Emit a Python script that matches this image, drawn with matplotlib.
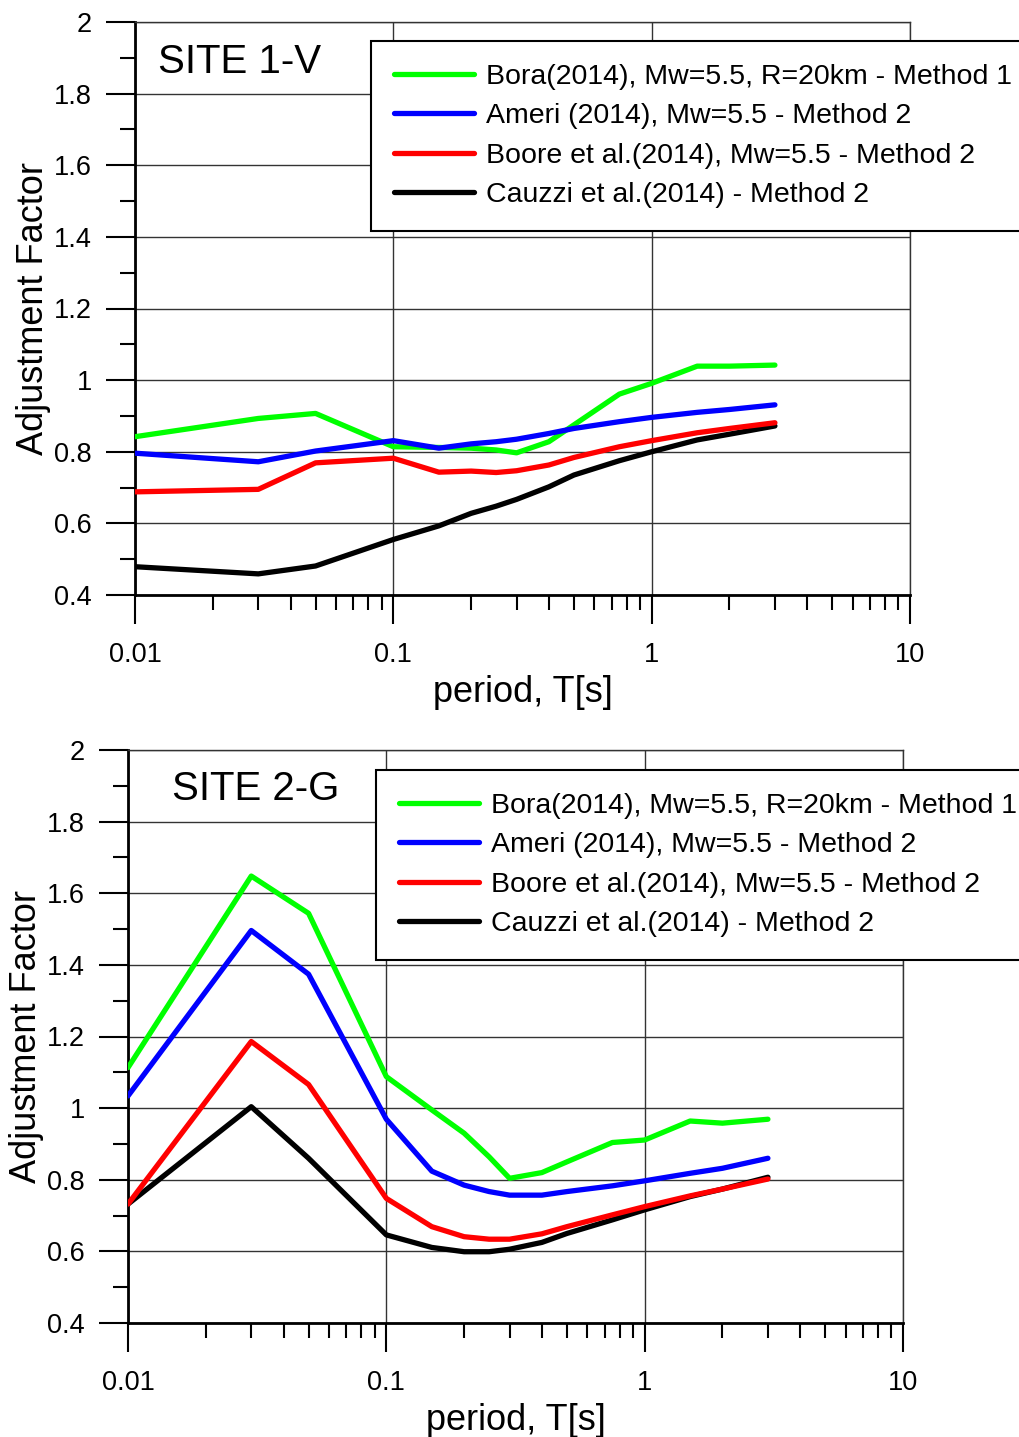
import matplotlib
matplotlib.use("Agg")
import matplotlib.pyplot as plt
from matplotlib.ticker import FixedLocator, LogLocator, FuncFormatter, NullFormatter

plt.rcParams['font.family'] = ['Liberation Sans', 'DejaVu Sans']

# Spectral periods T [s]
periods = [0.01, 0.03, 0.05, 0.1, 0.15, 0.2, 0.25, 0.3, 0.4, 0.5, 0.75, 1.0, 1.5, 2.0, 3.0]

# SITE 1-V adjustment factors
site1_bora = [0.842, 0.893, 0.907, 0.814, 0.812, 0.810, 0.805, 0.797, 0.828, 0.875, 0.961, 0.991, 1.039, 1.039, 1.042]
site1_ameri = [0.796, 0.772, 0.802, 0.831, 0.810, 0.822, 0.828, 0.835, 0.851, 0.865, 0.884, 0.896, 0.910, 0.918, 0.931]
site1_boore = [0.688, 0.695, 0.769, 0.782, 0.743, 0.746, 0.742, 0.747, 0.763, 0.784, 0.814, 0.831, 0.853, 0.865, 0.881]
site1_cauzzi = [0.479, 0.459, 0.481, 0.555, 0.593, 0.628, 0.648, 0.667, 0.702, 0.735, 0.775, 0.800, 0.833, 0.849, 0.872]

# SITE 2-G adjustment factors
site2_bora = [1.113, 1.648, 1.544, 1.088, 0.995, 0.930, 0.864, 0.804, 0.820, 0.850, 0.904, 0.911, 0.964, 0.958, 0.969]
site2_ameri = [1.034, 1.496, 1.374, 0.969, 0.824, 0.785, 0.767, 0.757, 0.757, 0.767, 0.783, 0.797, 0.818, 0.832, 0.860]
site2_boore = [0.732, 1.186, 1.066, 0.748, 0.669, 0.641, 0.634, 0.634, 0.649, 0.669, 0.702, 0.725, 0.755, 0.774, 0.802]
site2_cauzzi = [0.732, 1.004, 0.860, 0.646, 0.611, 0.599, 0.599, 0.606, 0.625, 0.650, 0.688, 0.716, 0.753, 0.774, 0.807]

labels = ["Bora(2014), Mw=5.5, R=20km - Method 1",
          "Ameri (2014), Mw=5.5 - Method 2",
          "Boore et al.(2014), Mw=5.5 - Method 2",
          "Cauzzi et al.(2014) - Method 2"]
colors = ["#00ff00", "#0000ff", "#ff0000", "#000000"]
titles = ["SITE 1-V", "SITE 2-G"]

W, H = 1019, 1437
fig = plt.figure(figsize=(W / 100, H / 100), dpi=100)

# axes rectangles in pixels: left, top, right, bottom
boxes = [(135, 22, 910, 595), (128, 750, 903, 1323)]
legend_corner = [(371, 41), (376, 770)]
title_pos = [(158, 62), (172, 789)]
datasets = [
    [site1_bora, site1_ameri, site1_boore, site1_cauzzi],
    [site2_bora, site2_ameri, site2_boore, site2_cauzzi],
]

for i in range(2):
    l, t, r, b = boxes[i]
    ax = fig.add_axes([l / W, 1 - b / H, (r - l) / W, (b - t) / H])
    ax.set_xscale('log')
    ax.set_xlim(0.01, 10)
    ax.set_ylim(0.4, 2.0)

    series = datasets[i]
    handles = [None] * 4
    # draw order: green, blue, black, red
    for k in [0, 1, 3, 2]:
        ln, = ax.plot(periods, series[k], color=colors[k], lw=3.8,
                      solid_capstyle='round', solid_joinstyle='round',
                      label=labels[k], zorder=3)
        handles[k] = ln

    # ticks
    ax.xaxis.set_major_locator(FixedLocator([0.01, 0.1, 1, 10]))
    ax.xaxis.set_minor_locator(LogLocator(base=10, subs=range(2, 10), numticks=20))
    ax.xaxis.set_major_formatter(FuncFormatter(lambda v, p: '%g' % v))
    ax.xaxis.set_minor_formatter(NullFormatter())
    ax.yaxis.set_major_locator(FixedLocator([0.4, 0.6, 0.8, 1.0, 1.2, 1.4, 1.6, 1.8, 2.0]))
    ax.yaxis.set_minor_locator(FixedLocator([0.5, 0.7, 0.9, 1.1, 1.3, 1.5, 1.7, 1.9]))
    ax.yaxis.set_major_formatter(FuncFormatter(lambda v, p: '%g' % round(v, 2)))

    ax.tick_params(axis='both', which='major', direction='out', width=1.5,
                   length=21, labelsize=19.5, color='black')
    ax.tick_params(axis='both', which='minor', direction='out', width=1.5,
                   length=11, color='black')
    ax.tick_params(axis='x', which='major', pad=13)
    ax.tick_params(axis='y', which='major', pad=10)

    ax.grid(True, which='major', color='0.2', lw=1.0, zorder=1)
    ax.set_axisbelow(True)

    for side in ['left', 'bottom']:
        ax.spines[side].set_linewidth(2.0)
        ax.spines[side].set_color('black')
    for side in ['top', 'right']:
        ax.spines[side].set_linewidth(1.0)
        ax.spines[side].set_color('0.2')

    ax.set_xlabel('period, T[s]', fontsize=26, labelpad=5)
    ax.set_ylabel('Adjustment Factor', fontsize=26, labelpad=2)

    tx, ty = title_pos[i]
    ax.text((tx - l) / (r - l), (b - ty) / (b - t), titles[i], fontsize=29,
            ha='left', va='center', transform=ax.transAxes, zorder=5)

    lx, ly = legend_corner[i]
    leg = ax.legend(handles=handles, loc='upper left',
                    bbox_to_anchor=((lx - l) / (r - l), (b - ly) / (b - t)),
                    borderaxespad=0, fontsize=20.5, frameon=True, fancybox=False,
                    framealpha=1, edgecolor='black', handlelength=2.8,
                    handletextpad=0.45, labelspacing=0.47, borderpad=0.8)
    leg.get_frame().set_linewidth(1.5)
    leg.set_zorder(10)

fig.savefig('out.png', dpi=100)
